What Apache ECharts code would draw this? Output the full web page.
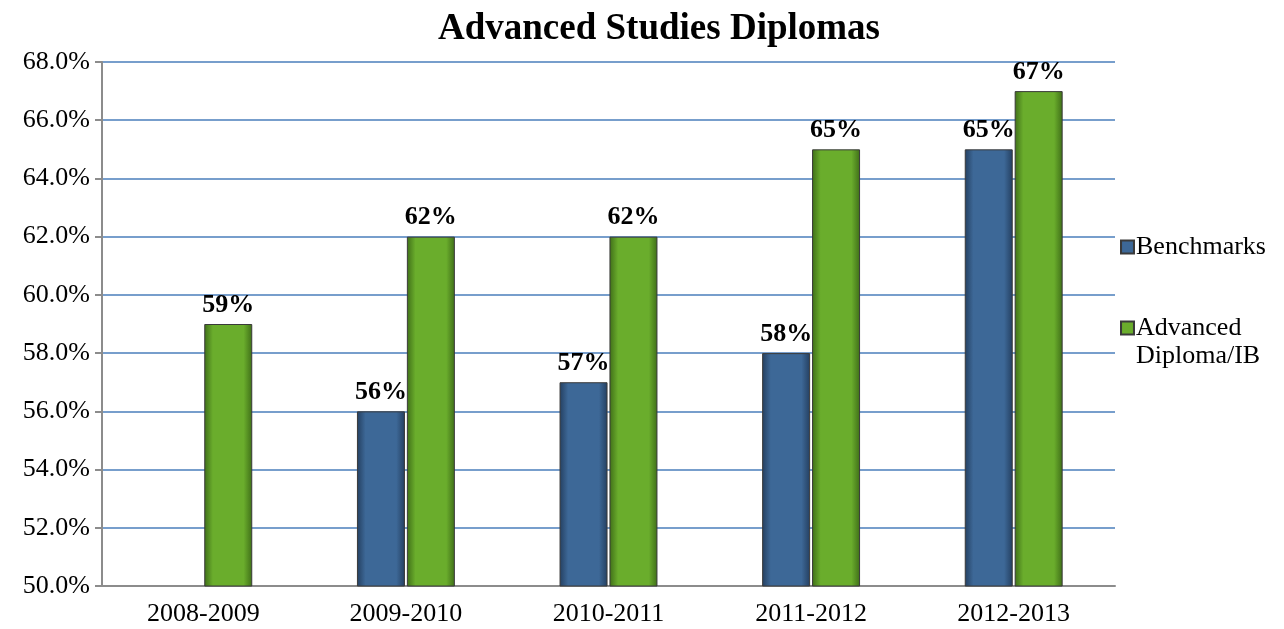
<!DOCTYPE html>
<html>
<head>
<meta charset="utf-8">
<script src="https://cdn.jsdelivr.net/npm/echarts@6/dist/echarts.min.js"></script>
<style>
  html, body { margin: 0; padding: 0; background: #ffffff; }
  #chart { width: 1284px; height: 629px; }
</style>
</head>
<body>
<div id="chart"></div>
<script>
// School years shown on the category axis
const years = ['2008-2009', '2009-2010', '2010-2011', '2011-2012', '2012-2013'];
// Percent of students earning each diploma type (null = no data)
const benchmarks = [null, 56, 57, 58, 65];
const advancedIB = [59, 62, 62, 65, 67];
const seriesNames = ['Benchmarks', 'Advanced Diploma/IB'];

const serif = '"Liberation Serif", "Times New Roman", serif';

function barFill(edge, mid) {
  return {
    type: 'linear', x: 0, y: 0, x2: 1, y2: 0,
    colorStops: [
      { offset: 0, color: edge },
      { offset: 0.18, color: mid },
      { offset: 0.82, color: mid },
      { offset: 1, color: edge }
    ]
  };
}

const labelStyle = {
  show: true,
  position: 'top',
  distance: 6,
  fontFamily: serif,
  fontWeight: 'bold',
  fontSize: 26,
  color: '#000000',
  formatter: p => p.value + '%'
};

const chart = echarts.init(document.getElementById('chart'), null, { renderer: 'canvas' });
chart.setOption({
  animation: false,
  title: {
    text: 'Advanced Studies Diplomas',
    left: 654, top: 6, textAlign: 'center',
    textStyle: { fontFamily: serif, fontWeight: 'bold', fontSize: 37, color: '#000000' }
  },
  legend: {
    orient: 'vertical',
    left: 1120, top: 233,
    padding: 0,
    itemWidth: 13, itemHeight: 13,
    itemGap: 25,
    icon: 'rect',
    textStyle: { fontFamily: serif, fontSize: 26, color: '#000000', lineHeight: 28, padding: [0, 0, 0, -3] },
    // the long name wraps onto two lines, its first line kept level with the swatch
    formatter: name => name === seriesNames[1] ? ' \nAdvanced\nDiploma/IB' : name,
    data: seriesNames
  },
  grid: { left: 102, right: 169, top: 62, bottom: 43, containLabel: false },
  xAxis: {
    type: 'category',
    data: years,
    axisLine: { lineStyle: { color: '#8c8c8c', width: 2 } },
    axisTick: { show: false },
    axisLabel: { fontFamily: serif, fontSize: 26, color: '#000000', margin: 15 }
  },
  yAxis: {
    type: 'value',
    min: 50, max: 68, interval: 2,
    axisLine: { show: true, lineStyle: { color: '#8c8c8c', width: 2 } },
    axisTick: { show: true, length: 7, lineStyle: { color: '#8c8c8c', width: 2 } },
    splitLine: { lineStyle: { color: '#4a7ebb', width: 1.5 } },
    axisLabel: {
      fontFamily: serif, fontSize: 26, color: '#000000', margin: 12,
      formatter: v => v.toFixed(1) + '%'
    }
  },
  series: [
    {
      name: seriesNames[0],
      type: 'bar',
      data: benchmarks,
      barWidth: 48,
      barGap: '4%',
      itemStyle: { color: barFill('#243f60', '#3d6897'), borderColor: '#3a3a3a', borderWidth: 1 },
      label: labelStyle
    },
    {
      name: seriesNames[1],
      type: 'bar',
      data: advancedIB,
      barWidth: 48,
      itemStyle: { color: barFill('#3f6e18', '#6aad2c'), borderColor: '#3a3a3a', borderWidth: 1 },
      label: labelStyle
    }
  ]
});
</script>
</body>
</html>
